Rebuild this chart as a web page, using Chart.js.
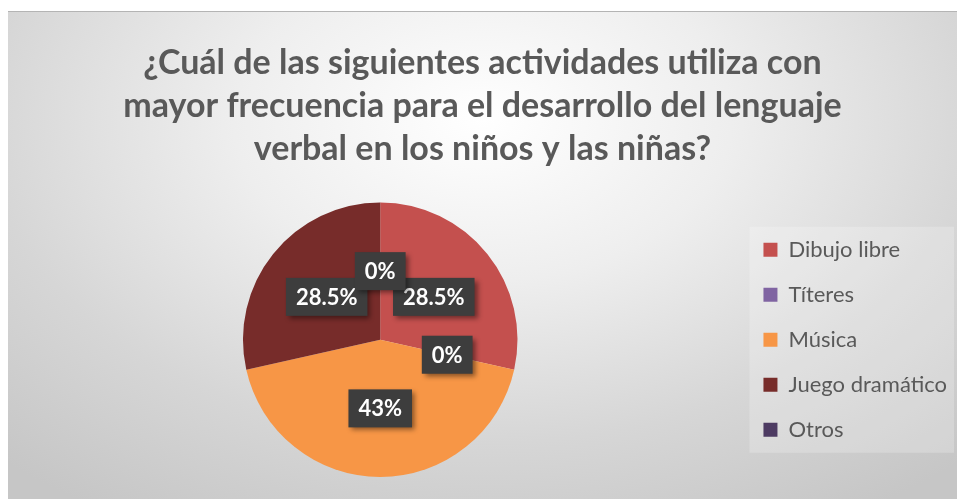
<!DOCTYPE html>
<html>
<head>
<meta charset="utf-8">
<script src="https://cdn.jsdelivr.net/npm/chart.js@4/dist/chart.umd.min.js"></script>
<style>
    html, body { margin: 0; padding: 0; background: #ffffff; }
    #wrap {
        position: absolute;
        left: 8px;
        top: 11px;
        width: 949px;
        height: 488px;
        border-top: 1px solid #b4b4b4;
        box-sizing: border-box;
        background: radial-gradient(ellipse 75% 95% at 50% 22%, #ffffff 0%, #eeeeee 35%, #d6d6d6 70%, #c6c6c6 100%);
    }
    #chart { display: block; }
</style>
</head>
<body>
<div id="wrap"><canvas id="chart" width="949" height="487"></canvas></div>
<script>
// Data
const titleLines = [
    '¿Cuál de las siguientes actividades utiliza con',
    'mayor frecuencia para el desarrollo del lenguaje',
    'verbal en los niños y las niñas?'
];
const categories = ['Dibujo libre', 'Títeres', 'Música', 'Juego dramático', 'Otros'];
const percentages = [28.5, 0, 43, 28.5, 0];
const valueLabels = ['28.5%', '0%', '43%', '28.5%', '0%'];
const sliceColors = ['#c4504e', '#8064a2', '#f79646', '#772c2a', '#4d3b62'];

const FONT = 'Lato, "Open Sans", sans-serif';

// title centred over the whole canvas, faint legend panel behind the legend
const layoutTweaks = {
    id: 'layoutTweaks',
    afterLayout(chart) {
        if (chart.titleBlock) {
            chart.titleBlock.left = 0;
            chart.titleBlock.right = chart.width;
        }
    },
    beforeDraw(chart) {
        const boxes = chart.legend && chart.legend.legendHitBoxes;
        if (!boxes || !boxes.length) return;
        const first = boxes[0], last = boxes[boxes.length - 1];
        let right = 0;
        boxes.forEach(b => { right = Math.max(right, b.left + b.width); });
        const ctx = chart.ctx;
        ctx.save();
        ctx.fillStyle = 'rgba(255,255,255,0.22)';
        ctx.fillRect(first.left - 14, first.top - 12, right - first.left + 21, last.top + last.height - first.top + 24);
        ctx.restore();
    }
};

// dark boxed data labels, centred on each slice at half radius
const boxLabels = {
    id: 'boxLabels',
    afterDatasetsDraw(chart) {
        const ctx = chart.ctx;
        const arcs = chart.getDatasetMeta(0).data;
        ctx.save();
        ctx.font = 'bold 22px ' + FONT;
        ctx.textAlign = 'center';
        ctx.textBaseline = 'middle';
        arcs.forEach((arc, i) => {
            const p = arc.tooltipPosition();
            const txt = valueLabels[i];
            const w = ctx.measureText(txt).width + 20;
            const h = 38;
            ctx.save();
            ctx.shadowColor = 'rgba(0,0,0,0.45)';
            ctx.shadowBlur = 5;
            ctx.shadowOffsetX = 3;
            ctx.shadowOffsetY = 3;
            ctx.fillStyle = '#3d3d3d';
            ctx.fillRect(p.x - w / 2, p.y - h / 2, w, h);
            ctx.restore();
            ctx.fillStyle = '#ffffff';
            ctx.fillText(txt, p.x, p.y + 1);
        });
        ctx.restore();
    }
};

new Chart(document.getElementById('chart'), {
    type: 'pie',
    data: {
        labels: categories,
        datasets: [{
            data: percentages,
            backgroundColor: sliceColors,
            borderColor: sliceColors,
            borderWidth: 0
        }]
    },
    options: {
        responsive: false,
        animation: false,
        layout: { padding: { left: 12, right: 0, bottom: 22 } },
        plugins: {
            title: {
                display: true,
                text: titleLines,
                color: '#595959',
                font: { family: FONT, size: 34, weight: 'bold', lineHeight: 1.26 },
                padding: { top: 30, bottom: 32 }
            },
            legend: {
                position: 'right',
                fullSize: false,
                labels: {
                    color: '#595959',
                    font: { family: FONT, size: 22 },
                    boxWidth: 14,
                    boxHeight: 14,
                    padding: 23
                }
            },
            tooltip: { enabled: false }
        }
    },
    plugins: [layoutTweaks, boxLabels]
});
</script>
</body>
</html>
